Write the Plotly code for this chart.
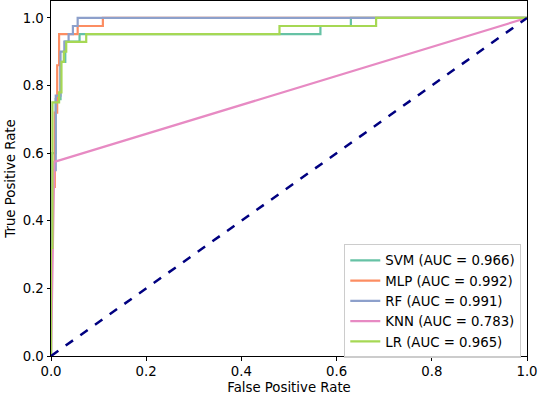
import plotly.graph_objects as go

# ROC curve data
svm_fpr = [0, 0, 0.01, 0.01, 0.02, 0.02, 0.03, 0.03, 0.06, 0.06, 0.566, 0.566, 0.63, 0.63, 1]
svm_tpr = [0, 0.6, 0.6, 0.76, 0.76, 0.87, 0.87, 0.93, 0.93, 0.952, 0.952, 0.976, 0.976, 1.0, 1.0]

mlp_fpr = [0, 0, 0.008, 0.008, 0.013, 0.013, 0.017, 0.017, 0.056, 0.056, 0.109, 0.109, 1]
mlp_tpr = [0, 0.5, 0.5, 0.72, 0.72, 0.86, 0.86, 0.952, 0.952, 0.976, 0.976, 1.0, 1.0]

rf_fpr = [0, 0, 0.01, 0.01, 0.02, 0.02, 0.028, 0.028, 0.037, 0.037, 0.046, 0.046, 0.056, 0.056, 1]
rf_tpr = [0, 0.55, 0.55, 0.77, 0.77, 0.90, 0.90, 0.93, 0.93, 0.952, 0.952, 0.976, 0.976, 1.0, 1.0]

knn_fpr = [0, 0.007, 0.007, 1]
knn_tpr = [0, 0.5, 0.574, 1.0]

lr_fpr = [0, 0, 0.003, 0.003, 0.017, 0.017, 0.022, 0.022, 0.027, 0.027, 0.032, 0.032, 0.074, 0.074, 0.48, 0.48, 0.683, 0.683, 1]
lr_tpr = [0, 0.32, 0.32, 0.75, 0.75, 0.78, 0.78, 0.87, 0.87, 0.90, 0.90, 0.929, 0.929, 0.952, 0.952, 0.976, 0.976, 1.0, 1.0]

names = ["SVM (AUC = 0.966)", "MLP (AUC = 0.992)", "RF (AUC = 0.991)",
         "KNN (AUC = 0.783)", "LR (AUC = 0.965)"]
colors = ["#66c2a5", "#fc8d62", "#8da0cb", "#e78ac3", "#a6d854"]

diag_x = [0, 1]
diag_y = [0, 1]

tick_vals = [0.0, 0.2, 0.4, 0.6, 0.8, 1.0]
tick_text = ["0.0", "0.2", "0.4", "0.6", "0.8", "1.0"]

fig = go.Figure()
curves = [(svm_fpr, svm_tpr), (mlp_fpr, mlp_tpr), (rf_fpr, rf_tpr),
          (knn_fpr, knn_tpr), (lr_fpr, lr_tpr)]
for (fx, ty), nm, c in zip(curves, names, colors):
    fig.add_trace(go.Scatter(x=fx, y=ty, mode="lines", name=nm,
                             line=dict(color=c, width=2.2)))

fig.add_trace(go.Scatter(x=diag_x, y=diag_y, mode="lines", showlegend=False,
                         line=dict(color="navy", width=2.5, dash="dash")))

font_family = "DejaVu Sans"
fs = 13.3
fig.update_layout(
    width=538, height=395,
    margin=dict(l=50.5, r=10.5, t=1, b=39.3, autoexpand=False),
    plot_bgcolor="white", paper_bgcolor="white",
    font=dict(family=font_family, size=fs, color="black"),
    showlegend=True,
    legend=dict(x=0.988, y=-0.006, xanchor="right", yanchor="bottom",
                bgcolor="rgba(255,255,255,0.8)", bordercolor="#cccccc",
                borderwidth=1, font=dict(family=font_family, size=fs),
                itemwidth=30, tracegroupgap=0),
    xaxis=dict(range=[0, 1], tickvals=tick_vals, ticktext=tick_text,
               showgrid=False, zeroline=False, showline=True, linecolor="black",
               linewidth=1, mirror=True, ticks="outside", ticklen=3.5,
               tickcolor="black", automargin=False,
               title=dict(text="False Positive Rate", standoff=4,
                          font=dict(size=fs))),
    yaxis=dict(range=[0, 1.05], tickvals=tick_vals, ticktext=tick_text,
               showgrid=False, zeroline=False, showline=True, linecolor="black",
               linewidth=1, mirror=True, ticks="outside", ticklen=3.5,
               tickcolor="black", automargin=False,
               title=dict(text="True Positive Rate", standoff=4,
                          font=dict(size=fs))),
)

fig.write_html("out.html", post_script="document.body.style.margin='0';",
               config={"displayModeBar": False})
